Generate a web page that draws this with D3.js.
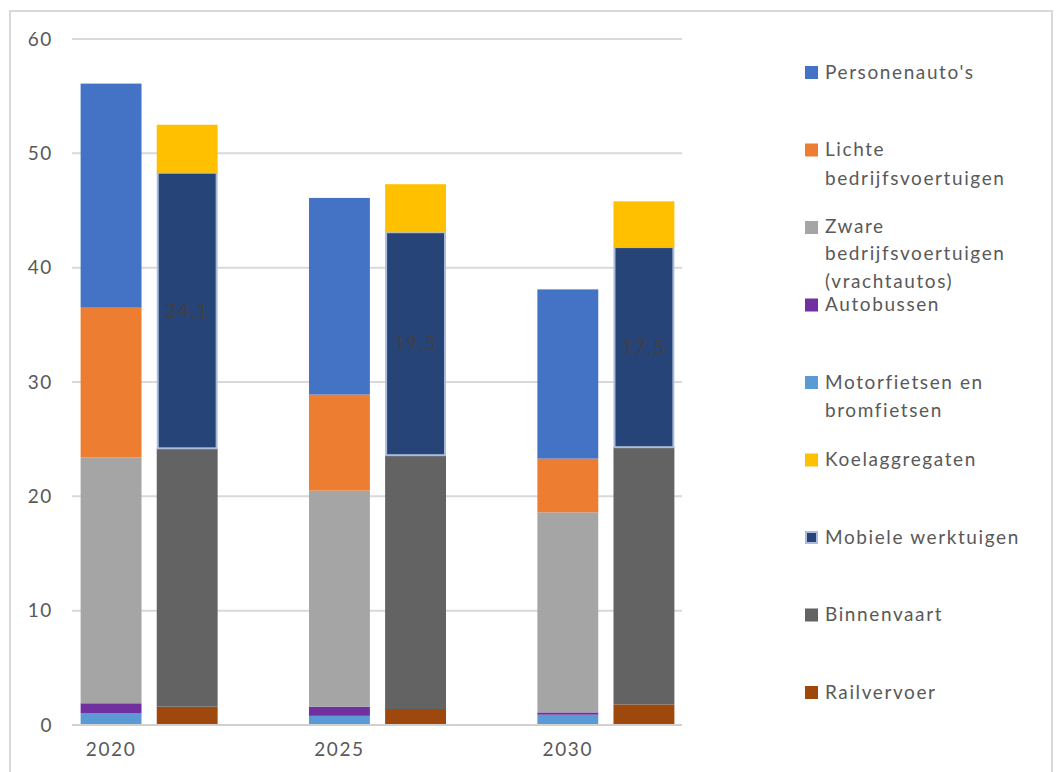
<!DOCTYPE html>
<html>
<head>
<meta charset="utf-8">
<script src="https://cdn.jsdelivr.net/npm/d3@7"></script>
<style>
  body { margin: 0; background: #fff; }
  text { font-family: Lato, "Noto Sans", sans-serif; letter-spacing: 1.6px; }
</style>
</head>
<body>
<div id="chart"></div>
<script>
// years on the axis
var years = ["2020", "2025", "2030"];

// left bar per year: road traffic
var roadSeries = ["Motorfietsen en bromfietsen", "Autobussen", "Zware bedrijfsvoertuigen (vrachtautos)",
    "Lichte bedrijfsvoertuigen", "Personenauto's"];
var motorfietsen = [1.05, 0.8, 0.9];
var autobussen = [0.85, 0.8, 0.2];
var zware = [21.5, 18.9, 17.5];
var lichte = [13.1, 8.4, 4.7];
var personenautos = [19.6, 17.2, 14.8];

// right bar per year: non-road
var otherSeries = ["Railvervoer", "Binnenvaart", "Mobiele werktuigen", "Koelaggregaten"];
var railvervoer = [1.6, 1.4, 1.8];
var binnenvaart = [22.6, 22.2, 22.5];
var mobiele = [24.1, 19.5, 17.5];
var koel = [4.2, 4.2, 4.0];

var yTicks = [0, 10, 20, 30, 40, 50, 60];

// legend order as in the original
var legendItems = [
    { name: "Personenauto's", lines: ["Personenauto's"] },
    { name: "Lichte bedrijfsvoertuigen", lines: ["Lichte", "bedrijfsvoertuigen"] },
    { name: "Zware bedrijfsvoertuigen (vrachtautos)", lines: ["Zware", "bedrijfsvoertuigen", "(vrachtautos)"] },
    { name: "Autobussen", lines: ["Autobussen"] },
    { name: "Motorfietsen en bromfietsen", lines: ["Motorfietsen en", "bromfietsen"] },
    { name: "Koelaggregaten", lines: ["Koelaggregaten"] },
    { name: "Mobiele werktuigen", lines: ["Mobiele werktuigen"] },
    { name: "Binnenvaart", lines: ["Binnenvaart"] },
    { name: "Railvervoer", lines: ["Railvervoer"] }
];

var colors = {
    "Personenauto's": "#4472C4",
    "Lichte bedrijfsvoertuigen": "#ED7D31",
    "Zware bedrijfsvoertuigen (vrachtautos)": "#A5A5A5",
    "Autobussen": "#7030A0",
    "Motorfietsen en bromfietsen": "#5B9BD5",
    "Koelaggregaten": "#FFC000",
    "Mobiele werktuigen": "#264478",
    "Binnenvaart": "#636363",
    "Railvervoer": "#9E480E"
};

var values = {
    "Motorfietsen en bromfietsen": motorfietsen,
    "Autobussen": autobussen,
    "Zware bedrijfsvoertuigen (vrachtautos)": zware,
    "Lichte bedrijfsvoertuigen": lichte,
    "Personenauto's": personenautos,
    "Railvervoer": railvervoer,
    "Binnenvaart": binnenvaart,
    "Mobiele werktuigen": mobiele,
    "Koelaggregaten": koel
};

var width = 1056, height = 772;
var svg = d3.select("#chart").append("svg")
    .attr("width", width)
    .attr("height", height);

// chart frame
svg.append("rect")
    .attr("x", 10).attr("y", 11)
    .attr("width", 1042).attr("height", 780)
    .attr("fill", "none")
    .attr("stroke", "#d9d9d9")
    .attr("stroke-width", 2);

var plot = { left: 72, right: 682, top: 39, bottom: 725 };

var y = d3.scaleLinear().domain([0, 60]).range([plot.bottom, plot.top]);

// 8 slots: year, other, gap, year, other, gap, year, other
var x = d3.scaleBand().domain(d3.range(8))
    .range([plot.left + 1, plot.right])
    .paddingInner(0.2).paddingOuter(0.1);

// gridlines
svg.append("g")
    .selectAll("line")
    .data(yTicks.filter(function (d) { return d > 0; }))
    .join("line")
    .attr("x1", plot.left).attr("x2", plot.right)
    .attr("y1", function (d) { return y(d); })
    .attr("y2", function (d) { return y(d); })
    .attr("stroke", "#d9d9d9")
    .attr("stroke-width", 2);

// stacked bars
function drawStack(series, slotOffset) {
    var rows = years.map(function (yr, i) {
        var r = { year: yr, i: i };
        series.forEach(function (s) { r[s] = values[s][i]; });
        return r;
    });
    var stack = d3.stack().keys(series)(rows);
    var g = svg.append("g");
    stack.forEach(function (layer) {
        var name = layer.key;
        var isMob = name === "Mobiele werktuigen";
        g.selectAll(null)
            .data(layer)
            .join("rect")
            .attr("x", function (d) { return x(d.data.i * 3 + slotOffset) + (isMob ? 1 : 0); })
            .attr("width", x.bandwidth() - (isMob ? 2 : 0))
            .attr("y", function (d) { return y(d[1]); })
            .attr("height", function (d) { return y(d[0]) - y(d[1]); })
            .attr("fill", colors[name])
            .attr("stroke", isMob ? "#a9bcdb" : "none")
            .attr("stroke-width", isMob ? 2 : 0);
        if (isMob) {
            g.selectAll(null)
                .data(layer)
                .join("text")
                .attr("x", function (d) { return x(d.data.i * 3 + slotOffset) + x.bandwidth() / 2; })
                .attr("y", function (d) { return (y(d[0]) + y(d[1])) / 2; })
                .attr("dy", "0.35em")
                .attr("text-anchor", "middle")
                .attr("fill", "#404040")
                .style("font-size", "19px")
                .text(function (d) { return d3.format(".1f")(d[1] - d[0]).replace(".", ","); });
        }
    });
}
drawStack(roadSeries, 0);
drawStack(otherSeries, 1);

// base axis line
svg.append("line")
    .attr("x1", plot.left).attr("x2", plot.right)
    .attr("y1", y(0)).attr("y2", y(0))
    .attr("stroke", "#d0d0d0")
    .attr("stroke-width", 2);

// y tick labels
svg.append("g")
    .selectAll("text")
    .data(yTicks)
    .join("text")
    .attr("x", 53)
    .attr("y", function (d) { return y(d); })
    .attr("dy", "0.35em")
    .attr("text-anchor", "end")
    .attr("fill", "#595959")
    .style("font-size", "19px")
    .text(function (d) { return d; });

// x labels under the left bar of each year
svg.append("g")
    .selectAll("text")
    .data(years)
    .join("text")
    .attr("x", function (d, i) { return x(i * 3) + x.bandwidth() / 2; })
    .attr("y", 756)
    .attr("text-anchor", "middle")
    .attr("fill", "#595959")
    .style("font-size", "19px")
    .text(function (d) { return d; });

// legend
var legend = svg.append("g");
legendItems.forEach(function (item, i) {
    var cy = 72 + i * 77.5;
    var isMob = item.name === "Mobiele werktuigen";
    var lineGap = item.lines.length > 2 ? 27.5 : 28.5;
    legend.append("rect")
        .attr("x", 805 + (isMob ? 1 : 0)).attr("y", cy - 6 + (isMob ? 1 : 0))
        .attr("width", isMob ? 11 : 13).attr("height", isMob ? 11 : 13)
        .attr("fill", colors[item.name])
        .attr("stroke", isMob ? "#a9bcdb" : "none")
        .attr("stroke-width", isMob ? 2 : 0);
    item.lines.forEach(function (line, j) {
        legend.append("text")
            .attr("x", 825)
            .attr("y", cy - (item.lines.length > 2 ? 1 : 0) + j * lineGap)
            .attr("dy", "0.35em")
            .attr("fill", "#595959")
            .style("font-size", "19px")
            .text(line);
    });
});
</script>
</body>
</html>
